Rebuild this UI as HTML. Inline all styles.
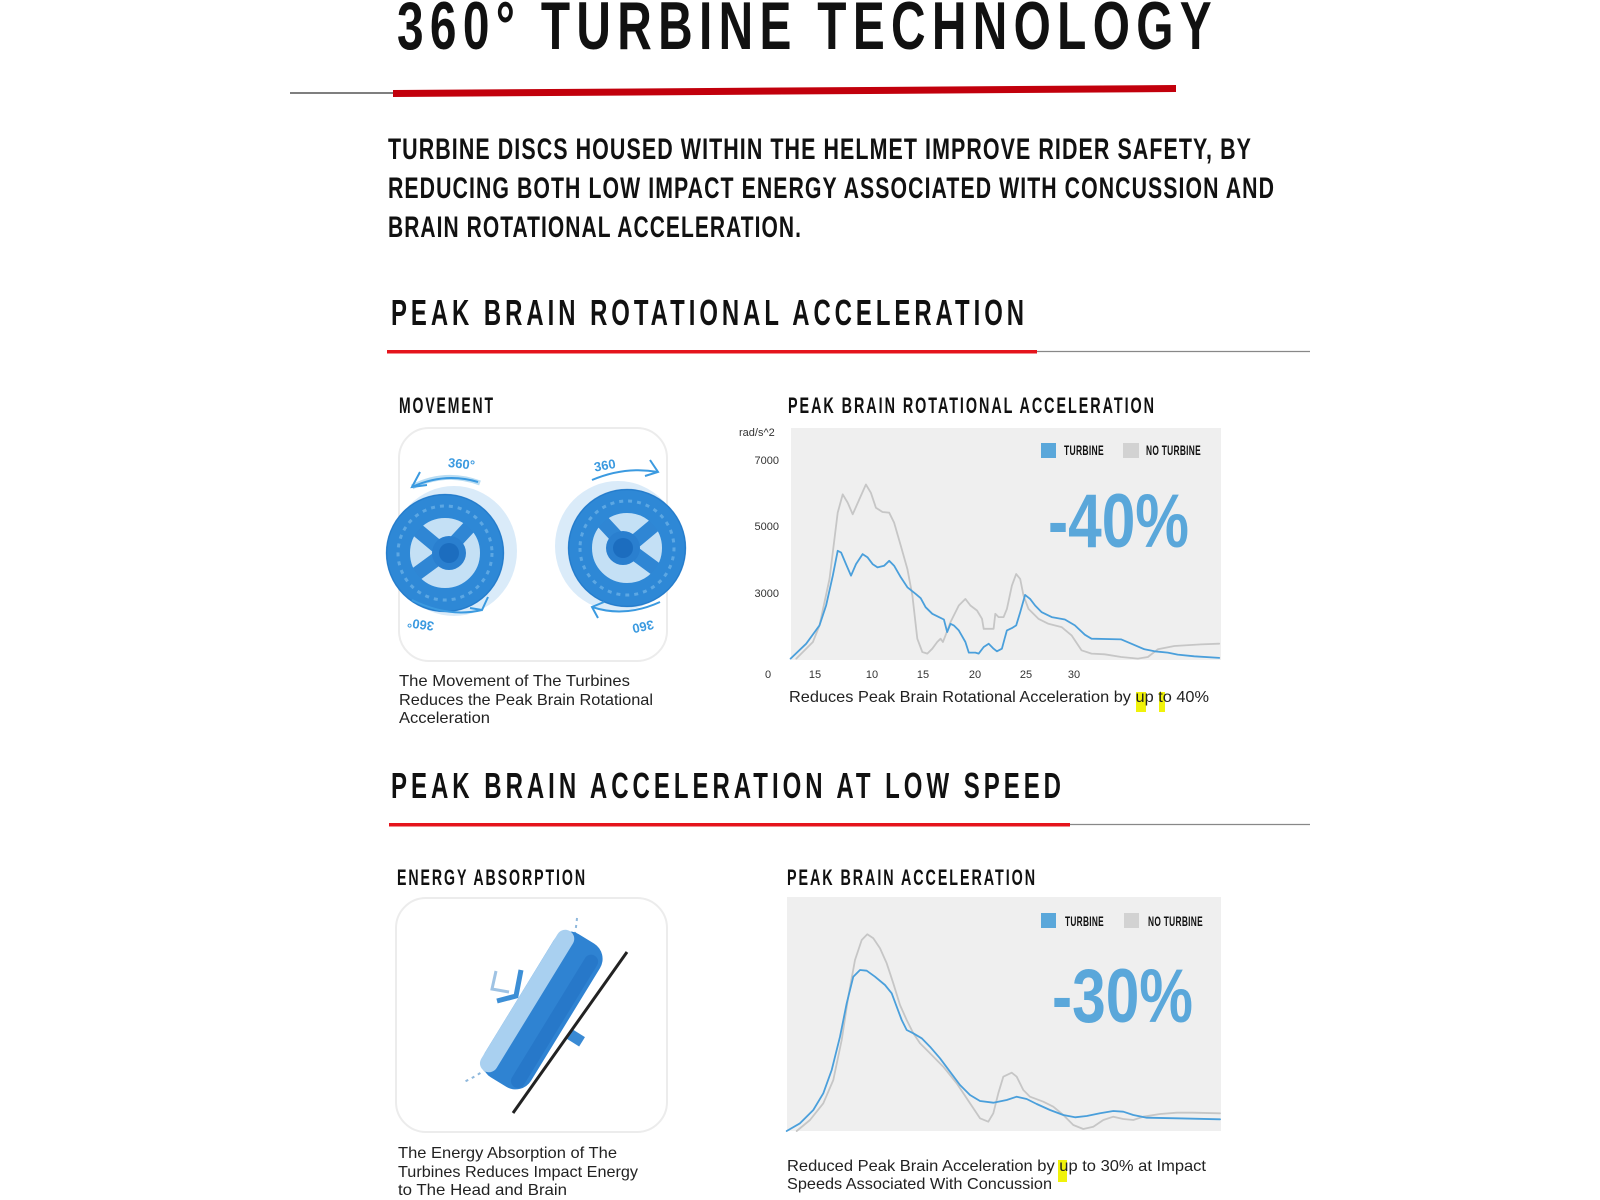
<!DOCTYPE html>
<html>
<head>
<meta charset="utf-8">
<style>
html,body{margin:0;padding:0;background:#fff;}
svg{display:block;}
.h{font-family:"Liberation Sans Narrow","Liberation Sans",sans-serif;font-weight:bold;fill:#111;}
.c{font-family:"Liberation Sans",sans-serif;fill:#222;}
</style>
</head>
<body>
<svg width="1600" height="1200" viewBox="0 0 1600 1200" xmlns="http://www.w3.org/2000/svg">
<rect width="1600" height="1200" fill="#fff"/>

<!-- Title -->
<text class="h" x="397" y="49" font-size="68" letter-spacing="9" textLength="821" lengthAdjust="spacingAndGlyphs">360° TURBINE TECHNOLOGY</text>
<line x1="290" y1="93" x2="394" y2="93" stroke="#333" stroke-width="1.3"/>
<polygon points="393,90 1176,85 1176,92 393,97" fill="#c2000c"/>

<!-- Body -->
<text class="h" x="388" y="159" font-size="30" letter-spacing="1.5" textLength="864" lengthAdjust="spacingAndGlyphs">TURBINE DISCS HOUSED WITHIN THE HELMET IMPROVE RIDER SAFETY, BY</text>
<text class="h" x="388" y="198" font-size="30" letter-spacing="1.5" textLength="887" lengthAdjust="spacingAndGlyphs">REDUCING BOTH LOW IMPACT ENERGY ASSOCIATED WITH CONCUSSION AND</text>
<text class="h" x="388" y="237" font-size="30" letter-spacing="1.5" textLength="414" lengthAdjust="spacingAndGlyphs">BRAIN ROTATIONAL ACCELERATION.</text>

<!-- Section 1 heading -->
<text class="h" x="391" y="325" font-size="36" letter-spacing="6" textLength="637" lengthAdjust="spacingAndGlyphs">PEAK BRAIN ROTATIONAL ACCELERATION</text>
<line x1="1037" y1="351.5" x2="1310" y2="351.5" stroke="#888" stroke-width="1.2"/>
<rect x="387" y="350" width="650" height="3.5" fill="#e5141c"/>

<!-- Sub headings -->
<text class="h" x="399" y="413" font-size="22" letter-spacing="3" textLength="96" lengthAdjust="spacingAndGlyphs">MOVEMENT</text>
<text class="h" x="788" y="413" font-size="22" letter-spacing="3" textLength="368" lengthAdjust="spacingAndGlyphs">PEAK BRAIN ROTATIONAL ACCELERATION</text>

<!-- Movement box -->
<rect x="399" y="428" width="268" height="233" rx="30" fill="#fff" stroke="#ececec" stroke-width="2"/>

<!-- Turbine 1 -->
<g transform="translate(445,553)">
  <ellipse cx="9" cy="-2" rx="63" ry="65" fill="#d3e8f8" opacity="0.85"/>
  <circle r="36" fill="#c4e0f5"/>
  <g stroke="#2f86d4" stroke-width="14" stroke-linecap="round">
    <line x1="0" y1="0" x2="-30" y2="-25"/>
    <line x1="0" y1="0" x2="26" y2="-28"/>
    <line x1="0" y1="0" x2="-30" y2="22"/>
  </g>
  <circle r="47" fill="none" stroke="#2e88d6" stroke-width="24"/>
  <circle r="47" fill="none" stroke="#7cbdeb" stroke-width="3" stroke-dasharray="4 5" opacity="0.6"/>
  <circle r="58.5" fill="none" stroke="#1e74c4" stroke-width="1.5" opacity="0.6"/>
  <circle r="17" cx="4" fill="#2a7fcf"/>
  <circle r="10" cx="4" fill="#1c6dbf"/>
</g>
<path d="M412,487 Q445,470 480,483" fill="none" stroke="#9ccfee" stroke-width="5" opacity="0.7"/>
<path d="M412,487 Q445,472 478,482" fill="none" stroke="#3b9ae0" stroke-width="2"/>
<polyline points="420,472 412,487 427,485" fill="none" stroke="#3b9ae0" stroke-width="2"/>
<path d="M412,600 Q448,618 482,610" fill="none" stroke="#3b9ae0" stroke-width="2"/>
<polyline points="488,597 482,610 470,608" fill="none" stroke="#3b9ae0" stroke-width="2"/>
<text x="448" y="468" font-family="Liberation Sans Narrow,Liberation Sans,sans-serif" font-weight="bold" font-size="13" fill="#3b9ae0" transform="rotate(6 459 464)">360°</text>
<text x="434" y="630" font-family="Liberation Sans Narrow,Liberation Sans,sans-serif" font-weight="bold" font-size="13" fill="#3b9ae0" transform="rotate(188 434 626)">360°</text>

<!-- Turbine 2 -->
<g transform="translate(627,548) scale(-1,1)">
  <ellipse cx="9" cy="-2" rx="63" ry="65" fill="#d3e8f8" opacity="0.85"/>
  <circle r="36" fill="#c4e0f5"/>
  <g stroke="#2f86d4" stroke-width="14" stroke-linecap="round">
    <line x1="0" y1="0" x2="-30" y2="-25"/>
    <line x1="0" y1="0" x2="26" y2="-28"/>
    <line x1="0" y1="0" x2="-30" y2="22"/>
  </g>
  <circle r="47" fill="none" stroke="#2e88d6" stroke-width="24"/>
  <circle r="47" fill="none" stroke="#7cbdeb" stroke-width="3" stroke-dasharray="4 5" opacity="0.6"/>
  <circle r="58.5" fill="none" stroke="#1e74c4" stroke-width="1.5" opacity="0.6"/>
  <circle r="17" cx="4" fill="#2a7fcf"/>
  <circle r="10" cx="4" fill="#1c6dbf"/>
</g>
<path d="M592,480 Q625,466 658,472" fill="none" stroke="#3b9ae0" stroke-width="2"/>
<polyline points="650,460 658,472 645,476" fill="none" stroke="#3b9ae0" stroke-width="2"/>
<path d="M592,607 Q625,618 660,602" fill="none" stroke="#3b9ae0" stroke-width="2"/>
<polyline points="598,618 592,607 604,602" fill="none" stroke="#3b9ae0" stroke-width="2"/>
<text x="594" y="470" font-family="Liberation Sans Narrow,Liberation Sans,sans-serif" font-weight="bold" font-size="13" fill="#3b9ae0" transform="rotate(-10 604 466)">360</text>
<text x="634" y="632" font-family="Liberation Sans Narrow,Liberation Sans,sans-serif" font-weight="bold" font-size="13" fill="#3b9ae0" transform="rotate(168 644 627)">360</text>

<!-- Caption 1 -->
<text class="c" x="399" y="686" font-size="16" textLength="231" lengthAdjust="spacingAndGlyphs">The Movement of The Turbines</text>
<text class="c" x="399" y="705" font-size="16" textLength="254" lengthAdjust="spacingAndGlyphs">Reduces the Peak Brain Rotational</text>
<text class="c" x="399" y="723" font-size="16" textLength="91" lengthAdjust="spacingAndGlyphs">Acceleration</text>

<!-- Chart 1 -->
<rect x="791" y="428" width="430" height="232" fill="#efefef"/>
<g font-family="Liberation Sans,sans-serif" font-size="11" fill="#333">
  <text x="739" y="436">rad/s^2</text>
  <text x="779" y="464" text-anchor="end">7000</text>
  <text x="779" y="530" text-anchor="end">5000</text>
  <text x="779" y="597" text-anchor="end">3000</text>
  <text x="768" y="678" text-anchor="middle">0</text>
  <text x="815" y="678" text-anchor="middle">15</text>
  <text x="872" y="678" text-anchor="middle">10</text>
  <text x="923" y="678" text-anchor="middle">15</text>
  <text x="975" y="678" text-anchor="middle">20</text>
  <text x="1026" y="678" text-anchor="middle">25</text>
  <text x="1074" y="678" text-anchor="middle">30</text>
</g>
<polyline fill="none" stroke="#c6c6c6" stroke-width="1.8" stroke-linejoin="round" stroke-linecap="round" points="796.3,658.6 812.9,642 819.5,625.4 829.5,579 837.7,512.7 842.7,494.4 847.7,502.7 852.7,514.3 859.3,499.4 865.9,484.5 870.9,492.8 875.9,507.7 882.5,512 889.2,512.7 894.1,522.6 900.8,545.8 907.4,569.1 912.4,595.6 917.3,638.7 922.3,652 927.3,653.6 932.3,648.7 937.2,642 940.6,638.7 942.9,642 945.5,635.4 950.5,622.1 958.8,605.5 965.4,598.9 970.4,605.5 977,610.5 982,618.8 983.7,628.8 993.6,628.8 995.3,613.8 998.6,617.1 1003.6,617.1 1006.9,608.9 1011.9,585.6 1016.2,574 1020.2,579 1023.5,595.6 1028.5,608.9 1038.4,618.8 1048.4,623.8 1061.6,627.1 1071.6,635.4 1081.5,650.3 1091.5,653.6 1104.7,654.3 1121.3,657 1137.9,658.6 1147.9,657 1157.8,649.3 1174.4,646 1200.9,644.4 1219.2,643.7"/>
<polyline fill="none" stroke="#4a9fdb" stroke-width="1.8" stroke-linejoin="round" stroke-linecap="round" points="790.6,658.6 806.2,643.7 819.5,625.4 826.1,605.5 832.8,575.7 837.7,550.8 841.1,552.5 846,564.1 851,575.7 856,564.1 862.6,554.1 867.6,557.4 872.6,564.1 877.5,567.4 884.2,565.7 889.2,560.8 894.1,565.7 900.8,577.3 907.4,587.3 915.7,593.9 920.7,598.2 925.6,607.2 932.3,613.8 938.9,617.1 943.9,619.5 947.2,632.1 950.5,623.8 953.8,625.4 958.8,630.4 965.4,642 968.8,652.6 975.4,652.6 978.7,653.6 983.7,647 988.7,643.7 993.6,648.7 996.9,651.3 1001.9,648.7 1004.6,638.7 1006.9,630.4 1011.9,628.1 1016.2,625.4 1020.2,612.2 1025.1,594.9 1030.1,598.9 1035.1,605.5 1041.7,612.2 1051.7,617.1 1064.9,619.5 1074.9,625.4 1084.8,634.7 1091.5,638.7 1121.3,639.4 1131.3,643.7 1144.5,649.3 1154.5,651.3 1167.8,652.6 1177.7,654.6 1194.3,656.3 1219.2,657.9"/>
<rect x="1041" y="443" width="15" height="15" fill="#5aa7da"/>
<text class="h" x="1064" y="455" font-size="14" letter-spacing="0.5" textLength="40" lengthAdjust="spacingAndGlyphs">TURBINE</text>
<rect x="1123" y="443" width="16" height="15" fill="#d2d2d2"/>
<text class="h" x="1146" y="455" font-size="14" letter-spacing="0.5" textLength="55" lengthAdjust="spacingAndGlyphs">NO TURBINE</text>
<text x="1048" y="547" font-family="Liberation Sans Narrow,Liberation Sans,sans-serif" font-weight="bold" font-size="76" fill="#5aa7da" textLength="141" lengthAdjust="spacingAndGlyphs">-40%</text>
<rect x="1136" y="692" width="10" height="20" fill="#f0f20a"/>
<rect x="1159" y="692" width="6" height="20" fill="#f0f20a"/>
<text class="c" x="789" y="702" font-size="16" textLength="420" lengthAdjust="spacingAndGlyphs">Reduces Peak Brain Rotational Acceleration by up to 40%</text>

<!-- Section 2 heading -->
<text class="h" x="391" y="798" font-size="36" letter-spacing="6" textLength="674" lengthAdjust="spacingAndGlyphs">PEAK BRAIN ACCELERATION AT LOW SPEED</text>
<line x1="1070" y1="824.5" x2="1310" y2="824.5" stroke="#888" stroke-width="1.2"/>
<rect x="389" y="823" width="681" height="3.5" fill="#e5141c"/>

<text class="h" x="397" y="885" font-size="22" letter-spacing="3" textLength="190" lengthAdjust="spacingAndGlyphs">ENERGY ABSORPTION</text>
<text class="h" x="787" y="885" font-size="22" letter-spacing="3" textLength="250" lengthAdjust="spacingAndGlyphs">PEAK BRAIN ACCELERATION</text>

<!-- Energy box -->
<rect x="396" y="898" width="271" height="234" rx="30" fill="#fff" stroke="#ececec" stroke-width="2"/>
<path d="M577,918 Q572,975 530,1030 Q500,1065 462,1083" fill="none" stroke="#8fb8dc" stroke-width="2" stroke-dasharray="3 4"/>
<polyline points="496,971 492,989 509,992" fill="none" stroke="#9fc3e4" stroke-width="3"/>
<polyline points="521,970 516,996 497,1001" fill="none" stroke="#3d8fd6" stroke-width="5"/>
<g transform="translate(545,1012) rotate(-58.5)">
  <rect x="-84" y="-30" width="168" height="54" rx="18" fill="#2f83d2"/>
  <rect x="-82" y="-30" width="164" height="18" rx="9" fill="#a9d0f0"/>
  <rect x="-80" y="6" width="154" height="14" rx="7" fill="#2374c4" opacity="0.7"/>
</g>
<rect x="570" y="1030" width="11" height="16" fill="#3a8ad4" transform="rotate(-58 575 1038)"/>
<line x1="513" y1="1113" x2="627" y2="952" stroke="#222" stroke-width="3"/>

<text class="c" x="398" y="1158" font-size="16" textLength="219" lengthAdjust="spacingAndGlyphs">The Energy Absorption of The</text>
<text class="c" x="398" y="1177" font-size="16" textLength="240" lengthAdjust="spacingAndGlyphs">Turbines Reduces Impact Energy</text>
<text class="c" x="398" y="1195" font-size="16" textLength="169" lengthAdjust="spacingAndGlyphs">to The Head and Brain</text>

<!-- Chart 2 -->
<rect x="787" y="897" width="434" height="234" fill="#efefef"/>
<polyline fill="none" stroke="#c6c6c6" stroke-width="1.8" stroke-linejoin="round" stroke-linecap="round" points="796.7,1131 810,1120 823.3,1103.3 833.3,1080 841.7,1040 848.3,996.7 855,960 861.7,940 867.3,934.3 873.3,938.3 880,948.3 886.7,963.3 893.3,983.3 900,1005 906.7,1020 913.3,1033.3 920,1043.3 930,1053.3 943.3,1066.7 956.7,1083.3 970,1103.3 980,1118.3 988.3,1121.7 993.3,1113.3 998.3,1093.3 1003.3,1076.7 1011.7,1072.7 1016.7,1076.7 1023.3,1090 1030,1096.7 1043.3,1101.7 1053.3,1106.7 1063.3,1115 1073.3,1125 1083.3,1129 1093.3,1126.7 1103.3,1120 1113.3,1116.7 1123.3,1119 1133.3,1120 1143.3,1116.7 1160,1114 1176.7,1112.7 1193.3,1112.7 1220,1113.3"/>
<polyline fill="none" stroke="#4a9fdb" stroke-width="1.8" stroke-linejoin="round" stroke-linecap="round" points="786.7,1131 800,1123.3 813.3,1110 823.3,1093.3 831.7,1070 840,1036.7 846.7,1003.3 853.3,976.7 860,970 866.7,970.7 875,976.7 885,985 891.7,993.3 896.7,1006.7 901.7,1020 906.7,1030 913.3,1033.3 921.7,1038.3 930,1046.7 940,1058.3 950,1071.7 960,1085 970,1095 980,1101 993.3,1102.7 1006.7,1100 1016.7,1096.7 1026.7,1099 1036.7,1104 1050,1110 1063.3,1115 1075,1117.3 1086.7,1116 1100,1113.3 1113.3,1111 1123.3,1111.7 1133.3,1115 1146.7,1117.7 1176.7,1118.3 1220,1119.3"/>
<rect x="1041" y="913" width="15" height="15" fill="#5aa7da"/>
<text class="h" x="1065" y="926" font-size="14" letter-spacing="0.5" textLength="39" lengthAdjust="spacingAndGlyphs">TURBINE</text>
<rect x="1124" y="913" width="15" height="15" fill="#d2d2d2"/>
<text class="h" x="1148" y="926" font-size="14" letter-spacing="0.5" textLength="55" lengthAdjust="spacingAndGlyphs">NO TURBINE</text>
<text x="1052" y="1022" font-family="Liberation Sans Narrow,Liberation Sans,sans-serif" font-weight="bold" font-size="76" fill="#5aa7da" textLength="141" lengthAdjust="spacingAndGlyphs">-30%</text>
<rect x="1058" y="1160" width="9" height="22" fill="#f0f20a"/>
<text class="c" x="787" y="1171" font-size="16" textLength="419" lengthAdjust="spacingAndGlyphs">Reduced Peak Brain Acceleration by up to 30% at Impact</text>
<text class="c" x="787" y="1189" font-size="16" textLength="265" lengthAdjust="spacingAndGlyphs">Speeds Associated With Concussion</text>
</svg>
</body>
</html>
